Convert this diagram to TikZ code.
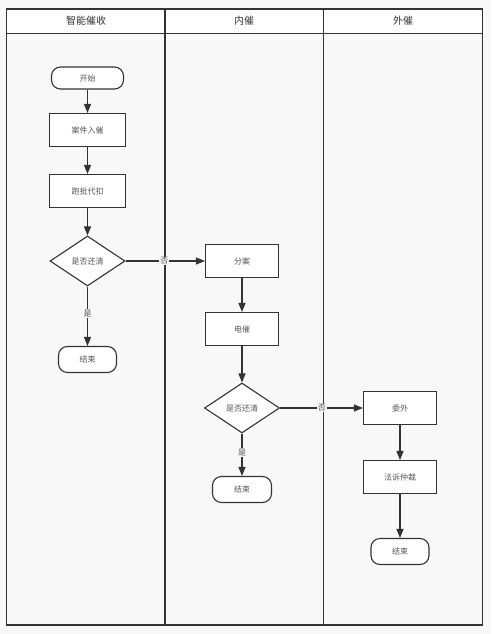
\documentclass[tikz,border=0pt]{standalone}
\usepackage{fontspec}
\newfontfamily\cjk{Noto Sans CJK SC}
\usetikzlibrary{arrows.meta,shapes.geometric}
\definecolor{linec}{HTML}{333333}
\definecolor{textc}{HTML}{555555}
\definecolor{bgc}{HTML}{F8F8F8}
\begin{document}
\begin{tikzpicture}[x=1pt,y=-1pt,
  every node/.style={font=\cjk\fontsize{8}{9.5}\selectfont, text=textc},
  box/.style={draw=linec, line width=1.1pt, fill=white, minimum width=74pt, minimum height=33pt, inner sep=0pt},
  term/.style={draw=linec, line width=1.1pt, fill=white, rounded corners=9pt, inner sep=0pt},
  dec/.style={draw=linec, line width=1.1pt, fill=white, diamond, aspect=1.5, minimum width=75pt, minimum height=50pt, inner sep=0pt},
  flow/.style={draw=linec, line width=1.2pt, -{Triangle[length=9pt,width=7pt]}},
  lbl/.style={fill=bgc, inner sep=1pt},
  lane/.style={draw=linec, line width=1.1pt},
  head/.style={font=\cjk\fontsize{10}{12}\selectfont, text=linec}]
\fill[bgc] (0,0) rectangle (491,634);
\useasboundingbox (0,0) rectangle (491,634);
% swimlanes
\fill[white] (6.5,9) rectangle (482.5,33.5);
\draw[lane] (6.5,9) rectangle (482.5,625);
\draw[lane] (6.5,33.5) -- (482.5,33.5);
\draw[lane] (165,9) -- (165,625);
\draw[lane] (323.5,9) -- (323.5,625);
\node[head] (h1) at (86,21) {智能催收};
\node[head] (h2) at (244,21) {内催};
\node[head] (h3) at (403,21) {外催};
% lane 1
\node[term, minimum width=72pt, minimum height=22pt] (start) at (87.5,78) {开始};
\node[box, minimum width=76pt] (a1) at (87.5,130) {案件入催};
\node[box, minimum width=76pt] (a2) at (87.5,191) {跑批代扣};
\node[dec] (d1) at (87.5,261) {是否还清};
\node[term, minimum width=58pt, minimum height=26pt] (e1) at (87.5,359.5) {结束};
% lane 2
\node[box, minimum width=73pt] (b1) at (242,261) {分案};
\node[box, minimum width=73pt] (b2) at (242,329) {电催};
\node[dec] (d2) at (242,408) {是否还清};
\node[term, minimum width=59pt, minimum height=26pt] (e2) at (242,489.5) {结束};
% lane 3
\node[box, minimum width=73pt] (c1) at (400,408) {委外};
\node[box, minimum width=73pt] (c2) at (400,477) {法诉仲裁};
\node[term, minimum width=58pt, minimum height=26pt] (e3) at (400,551.5) {结束};
% connectors
\draw[flow] (start) -- (a1);
\draw[flow] (a1) -- (a2);
\draw[flow] (a2) -- (d1);
\draw[flow] (d1) -- node[lbl, pos=0.45] {是} (e1);
\draw[flow] (d1) -- node[lbl, pos=0.49] {否} (b1);
\draw[flow] (b1) -- (b2);
\draw[flow] (b2) -- (d2);
\draw[flow] (d2) -- node[lbl, pos=0.45] {是} (e2);
\draw[flow] (d2) -- node[lbl, pos=0.505] {否} (c1);
\draw[flow] (c1) -- (c2);
\draw[flow] (c2) -- (e3);
\end{tikzpicture}
\end{document}
